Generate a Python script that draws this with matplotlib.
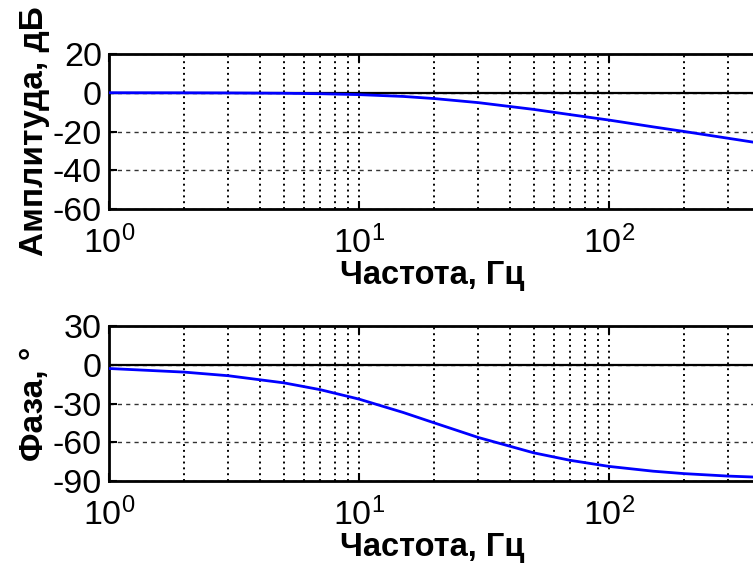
import matplotlib
matplotlib.use("Agg")
import matplotlib.pyplot as plt
from matplotlib.ticker import LogLocator, FixedLocator

plt.rcParams['font.family'] = ['Liberation Sans', 'DejaVu Sans']
plt.rcParams['mathtext.fontset'] = 'custom'
plt.rcParams['mathtext.rm'] = 'Liberation Sans'
plt.rcParams['mathtext.it'] = 'Liberation Sans'
plt.rcParams['mathtext.bf'] = 'Liberation Sans:bold'
plt.rcParams['axes.unicode_minus'] = False

freq = [1, 2, 3, 5, 7, 10, 15, 20, 30, 50, 70, 100, 150, 200, 300, 400, 700, 1000]
mag_db = [0.0, -0.04, -0.1, -0.26, -0.5, -0.97, -1.9, -3.0, -5.1, -8.6, -11.3,
          -14.1, -17.6, -20.0, -23.5, -26.0, -30.9, -34.0]
phase_deg = [-2.9, -5.7, -8.5, -14.0, -19.3, -26.6, -36.9, -45.0, -56.3, -68.2,
             -74.0, -78.7, -82.4, -84.3, -86.2, -87.1, -88.4, -88.9]

mag_ticks = [20, 0, -20, -40, -60]
phase_ticks = [30, 0, -30, -60, -90]
x_label = "Частота, Гц"
mag_label = "Амплитуда, дБ"
phase_label = "Фаза, °"

W, H = 753, 568
fig = plt.figure(figsize=(W / 100, H / 100), dpi=100)

left = 109 / W
width = (755 - 109) / W
xmax = 10 ** ((755 - 109) / 250.0)

def make_ax(top_px, bot_px, y, ticks, ylabel):
    ax = fig.add_axes([left, 1 - bot_px / H, width, (bot_px - top_px) / H])
    ax.plot(freq, y, color='#0000ff', lw=2.0, zorder=3)
    ax.set_xscale('log')
    ax.set_xlim(1, xmax)
    ax.set_ylim(min(ticks), max(ticks))
    ax.set_yticks(ticks)
    ax.xaxis.set_major_locator(FixedLocator([1, 10, 100]))
    ax.xaxis.set_minor_locator(LogLocator(base=10, subs=range(2, 10)))
    ax.set_xticklabels([r'$10^0$', r'$10^1$', r'$10^2$'])
    ax.tick_params(axis='both', which='major', labelsize=24.5, direction='in',
                   length=6, width=1.5, top=True, right=False)
    ax.tick_params(axis='y', which='major', pad=5)
    ax.tick_params(axis='x', which='major', pad=12)
    ax.tick_params(axis='x', which='minor', direction='in', length=0)
    ax.grid(True, axis='x', which='both', color='black', linestyle=(0, (1, 2)), lw=1.4)
    ax.grid(True, axis='y', which='major', color='#333333', linestyle=(0, (3, 3)), lw=1.0)
    ax.axhline(0, color='black', lw=1.6, zorder=2)
    for s in ax.spines.values():
        s.set_linewidth(2.0)
    ax.set_xlabel(x_label, fontsize=23.5, fontweight='bold', labelpad=0)
    ax.set_ylabel(ylabel, fontsize=24, fontweight='bold', labelpad=2)
    return ax

ax1 = make_ax(54, 209, mag_db, mag_ticks, mag_label)
ax2 = make_ax(326, 481, phase_deg, phase_ticks, phase_label)

fig.savefig("out.png", dpi=100)
